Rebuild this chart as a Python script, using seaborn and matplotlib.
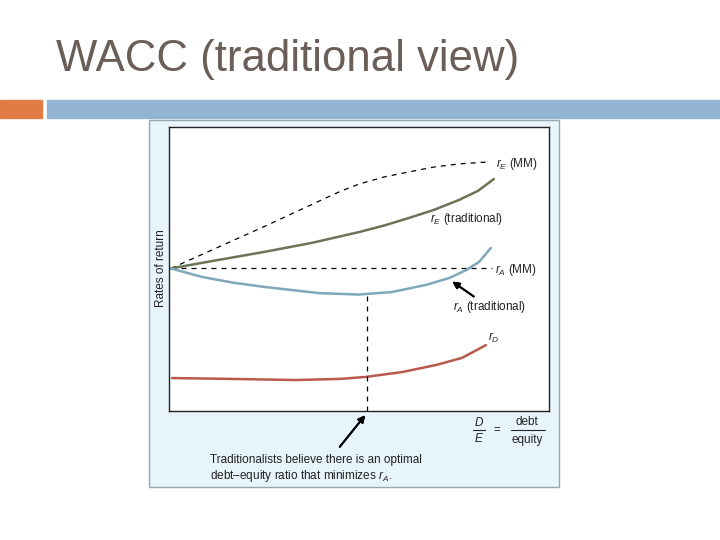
import numpy as np
import pandas as pd
import seaborn as sns
from matplotlib import pyplot as plt
from matplotlib.patches import Rectangle
from matplotlib.lines import Line2D

# data (x = debt/equity, y = rate of return, arbitrary units)
de_rE_mm = [0.5, 25.3, 45.0, 50.0, 56.6, 63.2, 69.7, 76.3, 84.2]
rE_mm = [50.2, 65.1, 77.3, 79.9, 82.4, 84.2, 85.9, 87.0, 87.7]

de_rE_trad = [0.5, 12.6, 25.0, 37.6, 50.0, 56.6, 63.2, 69.7, 76.3, 81.3, 85.5]
rE_trad = [50.2, 53.1, 56.0, 59.2, 63.0, 65.3, 68.0, 70.8, 74.3, 77.5, 81.7]

de_rA_trad = [0.5, 8.7, 16.8, 25.0, 39.5, 50.0, 58.7, 67.6, 73.7, 78.2, 81.6, 84.7]
rA_trad = [50.2, 47.2, 45.2, 43.7, 41.5, 41.0, 41.9, 44.4, 46.8, 49.6, 52.5, 57.4]

de_rD = [0.8, 16.1, 33.4, 45.0, 51.8, 61.3, 70.3, 77.1, 83.4]
rD = [11.6, 11.3, 10.9, 11.3, 12.0, 13.7, 16.2, 18.7, 23.2]

de_rA_mm = [0.5, 85.0]
rA_mm = [50.2, 50.2]

optimal_de = 52.1
optimal_rA = 41.1

sns.set_style("white")
plt.rcParams['font.family'] = ['Liberation Sans', 'DejaVu Sans']
plt.rcParams['mathtext.fontset'] = 'custom'
plt.rcParams['mathtext.rm'] = 'Liberation Sans'
plt.rcParams['mathtext.it'] = 'Liberation Sans:italic'

W, H = 720, 540
fig = plt.figure(figsize=(7.2, 5.4), dpi=100)


def fx(px):
    return px / W


def fy(py):
    return 1 - py / H


# slide decoration
fig.text(fx(56), fy(59), "WACC (traditional view)", fontsize=31.5, color="#6b5d57", va='center')
for r in [Rectangle((fx(0), fy(118)), fx(42), 18 / H, color="#e07b45"),
          Rectangle((fx(47), fy(118)), fx(673), 18 / H, color="#93b4d2"),
          Rectangle((fx(149), fy(487)), fx(410), 367 / H, facecolor="#e8f4fb",
                    edgecolor="#9aa5ad", lw=1)]:
    r.set_transform(fig.transFigure)
    r.set_zorder(-5)
    fig.add_artist(r)

ax = fig.add_axes([fx(169), fy(411), fx(380), 284 / H])
ax.set_zorder(2)
ax.set_facecolor("white")

dash = (0, (4, 4))
sns.lineplot(x=de_rE_mm, y=rE_mm, ax=ax, color="black", lw=0.9, linestyle=dash)
sns.lineplot(x=de_rA_mm, y=rA_mm, ax=ax, color="black", lw=0.9, linestyle=dash)
sns.lineplot(x=de_rE_trad, y=rE_trad, ax=ax, color="#6b7456", lw=1.8)
sns.lineplot(x=de_rA_trad, y=rA_trad, ax=ax, color="#7fa9b9", lw=1.8)
sns.lineplot(x=de_rD, y=rD, ax=ax, color="#b65a4c", lw=1.8)
ax.plot([optimal_de, optimal_de], [0, optimal_rA], color="black", lw=0.9, linestyle=dash)

ax.set_xlim(0, 100)
ax.set_ylim(0, 100)
ax.set_xticks([])
ax.set_yticks([])
for s in ax.spines.values():
    s.set_color("#222222")
    s.set_linewidth(1.0)

fs = 8.5
ink = "#222222"
lab = dict(fontsize=fs, color=ink, va='center', ha='left', zorder=5)
fig.text(fx(496), fy(164), r"$r_E$ (MM)", **lab)
fig.text(fx(430), fy(219), r"$r_E$ (traditional)", **lab)
fig.text(fx(495), fy(270), r"$r_A$ (MM)", **lab)
fig.text(fx(453), fy(307), r"$r_A$ (traditional)", **lab)
fig.text(fx(488), fy(338), r"$r_D$", **lab)

arrow = dict(arrowstyle='-|>', color='black', lw=1.4, mutation_scale=10)
fig.add_artist(ax.annotate("", xy=(fx(450), fy(280)), xycoords='figure fraction',
                           xytext=(fx(476), fy(298)), textcoords='figure fraction',
                           arrowprops=arrow, annotation_clip=False))
fig.add_artist(ax.annotate("", xy=(fx(367), fy(413)), xycoords='figure fraction',
                           xytext=(fx(338), fy(449)), textcoords='figure fraction',
                           arrowprops=arrow, annotation_clip=False))

fig.text(fx(161), fy(268), "Rates of return", rotation=90, fontsize=8.5,
         color=ink, ha='center', va='center')

# D/E = debt/equity
fig.text(fx(479), fy(422), r"$D$", fontsize=fs, ha='center', va='center', color=ink)
fig.text(fx(479), fy(438), r"$E$", fontsize=fs, ha='center', va='center', color=ink)
fig.text(fx(497), fy(430), "=", fontsize=fs, ha='center', va='center', color=ink)
fig.text(fx(527), fy(422), "debt", fontsize=fs, ha='center', va='center', color=ink)
fig.text(fx(527), fy(440), "equity", fontsize=fs, ha='center', va='center', color=ink)
fig.add_artist(Line2D([fx(473), fx(485)], [fy(430), fy(430)], transform=fig.transFigure,
                      color=ink, lw=0.8))
fig.add_artist(Line2D([fx(511), fx(545)], [fy(430), fy(430)], transform=fig.transFigure,
                      color=ink, lw=0.8))

fig.text(fx(210), fy(460), "Traditionalists believe there is an optimal",
         fontsize=fs, va='center', color=ink)
fig.text(fx(210), fy(476), r"debt–equity ratio that minimizes $r_A$.",
         fontsize=fs, va='center', color=ink)

fig.savefig("out.png", dpi=100)
